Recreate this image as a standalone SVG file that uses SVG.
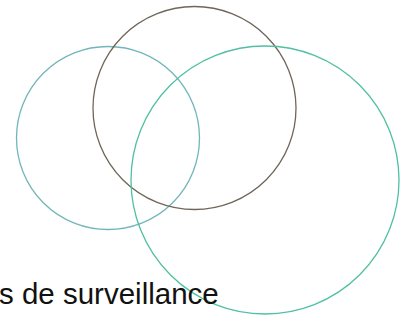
<svg xmlns="http://www.w3.org/2000/svg" width="412" height="323" viewBox="0 0 412 323">
<style>
.c{fill:none;stroke-width:1.3}
.t{font-family:"Liberation Sans",Arial,sans-serif;font-size:29.5px;fill:#111}
</style>
<rect width="412" height="323" fill="#fff"/>
<g id="circle-left"><circle class="c" cx="108" cy="138" r="91.5" stroke="#72b6ba"/></g>
<g id="circle-top"><circle class="c" cx="194.5" cy="108" r="101.5" stroke="#6f6659"/></g>
<g id="circle-right"><circle class="c" cx="265" cy="180" r="134" stroke="#50bfa3"/></g>
<g id="label"><text class="t" x="-1" y="304">s de surveillance</text></g>
</svg>
